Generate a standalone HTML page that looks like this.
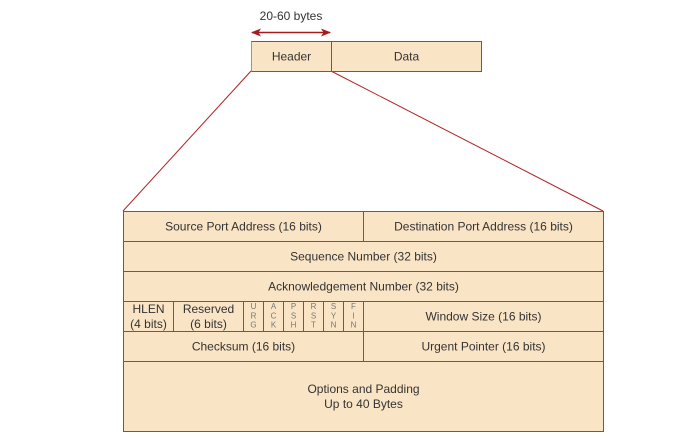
<!DOCTYPE html>
<html><head><meta charset="utf-8"><style>
html,body{margin:0;padding:0;background:#fff;width:700px;height:446px;overflow:hidden}
svg{display:block}
text{font-family:"Liberation Sans",Arial,sans-serif;fill:#333;}
</style></head><body>
<svg width="700" height="446" viewBox="0 0 700 446" xmlns="http://www.w3.org/2000/svg">
<defs>
<marker id="ah" markerWidth="10" markerHeight="8" refX="9" refY="4" orient="auto-start-reverse" markerUnits="userSpaceOnUse">
<path d="M0,0 L10,4 L0,8 L2.5,4 Z" fill="#a61c1c"/>
</marker>
</defs>
<text x="291" y="20" font-size="12" text-anchor="middle">20-60 bytes</text>
<line x1="252" y1="32.5" x2="330" y2="32.5" stroke="#a61c1c" stroke-width="1.5" marker-start="url(#ah)" marker-end="url(#ah)"/>
<line x1="251" y1="71" x2="123" y2="211" stroke="#b22222" stroke-width="1"/>
<line x1="331" y1="71" x2="603" y2="211" stroke="#b22222" stroke-width="1"/>
<g shape-rendering="crispEdges">
<rect x="251.5" y="41.5" width="80" height="30" fill="#fae4c6" stroke="#0e8088" stroke-width="1"/>
<rect x="331.5" y="41.5" width="150" height="30" fill="#fae4c6" stroke="#0e8088" stroke-width="1"/>
<line x1="251.5" y1="41.5" x2="251.5" y2="71.5" stroke="#67ab9f" stroke-width="1"/>
<rect x="123.5" y="211.5" width="480" height="220" fill="#fae4c6" stroke="#0e8088" stroke-width="1"/>
<g stroke="#0e8088" stroke-width="1">
<line x1="123.5" y1="241.5" x2="603.5" y2="241.5"/>
<line x1="123.5" y1="271.5" x2="603.5" y2="271.5"/>
<line x1="123.5" y1="301.5" x2="603.5" y2="301.5"/>
<line x1="123.5" y1="331.5" x2="603.5" y2="331.5"/>
<line x1="123.5" y1="361.5" x2="603.5" y2="361.5"/>
<line x1="363.5" y1="211.5" x2="363.5" y2="241.5"/>
<line x1="363.5" y1="301.5" x2="363.5" y2="361.5"/>
<line x1="173.5" y1="301.5" x2="173.5" y2="331.5"/>
<line x1="243.5" y1="301.5" x2="243.5" y2="331.5"/>
<line x1="263.5" y1="301.5" x2="263.5" y2="331.5"/>
<line x1="283.5" y1="301.5" x2="283.5" y2="331.5"/>
<line x1="303.5" y1="301.5" x2="303.5" y2="331.5"/>
<line x1="323.5" y1="301.5" x2="323.5" y2="331.5"/>
<line x1="343.5" y1="301.5" x2="343.5" y2="331.5"/>
</g>
</g>
<text x="291.5" y="60.5" font-size="12" text-anchor="middle">Header</text>
<text x="406.5" y="60.5" font-size="12" text-anchor="middle">Data</text>
<g font-size="12" text-anchor="middle">
<text x="243.5" y="230.5">Source Port Address (16 bits)</text>
<text x="483.5" y="230.5">Destination Port Address (16 bits)</text>
<text x="363.5" y="260.5">Sequence Number (32 bits)</text>
<text x="363.5" y="290.5">Acknowledgement Number (32 bits)</text>
<text x="148.5" y="313">HLEN</text>
<text x="148.5" y="328">(4 bits)</text>
<text x="208.5" y="313">Reserved</text>
<text x="208.5" y="328">(6 bits)</text>
<text x="483.5" y="320.5">Window Size (16 bits)</text>
<text x="243.5" y="350.5">Checksum (16 bits)</text>
<text x="483.5" y="350.5">Urgent Pointer (16 bits)</text>
<text x="363.5" y="393">Options and Padding</text>
<text x="363.5" y="408">Up to 40 Bytes</text>
</g>
<g font-size="8" text-anchor="middle">
<text x="253.5" y="309" style="fill:#777">U</text><text x="253.5" y="318.3" style="fill:#777">R</text><text x="253.5" y="327.6" style="fill:#777">G</text>
<text x="273.5" y="309" style="fill:#777">A</text><text x="273.5" y="318.3" style="fill:#777">C</text><text x="273.5" y="327.6" style="fill:#777">K</text>
<text x="293.5" y="309" style="fill:#777">P</text><text x="293.5" y="318.3" style="fill:#777">S</text><text x="293.5" y="327.6" style="fill:#777">H</text>
<text x="313.5" y="309" style="fill:#777">R</text><text x="313.5" y="318.3" style="fill:#777">S</text><text x="313.5" y="327.6" style="fill:#777">T</text>
<text x="333.5" y="309" style="fill:#777">S</text><text x="333.5" y="318.3" style="fill:#777">Y</text><text x="333.5" y="327.6" style="fill:#777">N</text>
<text x="353.5" y="309" style="fill:#777">F</text><text x="353.5" y="318.3" style="fill:#777">I</text><text x="353.5" y="327.6" style="fill:#777">N</text>
</g>
</svg>
</body></html>
